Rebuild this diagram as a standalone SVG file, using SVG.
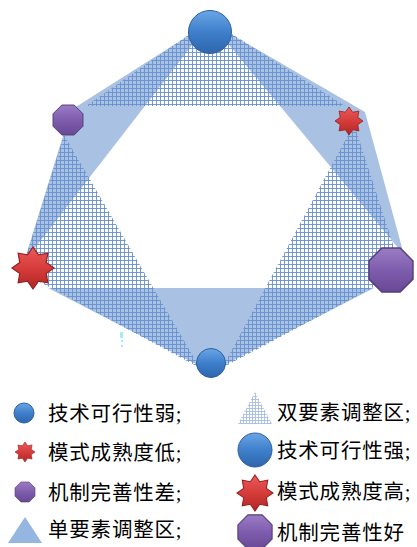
<svg xmlns="http://www.w3.org/2000/svg" width="417" height="547" viewBox="0 0 417 547">
<defs>
<pattern id="grid" patternUnits="userSpaceOnUse" width="4" height="4">
<path d="M0 0.5H4M0.5 0V4" stroke="#6790CF" stroke-width="0.9" fill="none"/>
</pattern>
<pattern id="gridL" patternUnits="userSpaceOnUse" width="3" height="3">
<path d="M0 0.5H3M0.5 0V3" stroke="#9DB8E0" stroke-width="0.8" fill="none"/>
</pattern>
<linearGradient id="gBlue" x1="0" y1="0" x2="0" y2="1">
<stop offset="0" stop-color="#6AA6E6"/><stop offset="0.5" stop-color="#3F7FCB"/><stop offset="1" stop-color="#2E66AE"/>
</linearGradient>
<linearGradient id="gRed" x1="0" y1="0" x2="0" y2="1">
<stop offset="0" stop-color="#EC5A58"/><stop offset="0.55" stop-color="#D23A38"/><stop offset="1" stop-color="#B02626"/>
</linearGradient>
<linearGradient id="gPurple" x1="0" y1="0" x2="0" y2="1">
<stop offset="0" stop-color="#9A7CC4"/><stop offset="0.5" stop-color="#7F5DAE"/><stop offset="1" stop-color="#694894"/>
</linearGradient>
<path id="star" d="M0,-10 L2.6,-6.28 L7.07,-7.07 L6.28,-2.6 L10,0 L6.28,2.6 L7.07,7.07 L2.6,6.28 L0,10 L-2.6,6.28 L-7.07,7.07 L-6.28,2.6 L-10,0 L-6.28,-2.6 L-7.07,-7.07 L-2.6,-6.28 Z"/>
<path id="oct" d="M9.24,-3.83 L3.83,-9.24 L-3.83,-9.24 L-9.24,-3.83 L-9.24,3.83 L-3.83,9.24 L3.83,9.24 L9.24,3.83 Z"/>
</defs>
<style>
.solid{fill:#A9C1E3}
.hatch{fill:url(#grid)}
.blue{fill:url(#gBlue);stroke:#2F5F9C;stroke-width:1}
.red{fill:url(#gRed);stroke:#992222;stroke-width:0.6}
.purple{fill:url(#gPurple);stroke:#553C7A;stroke-width:0.6}
.lbl{font-family:"Liberation Serif","Noto Sans CJK SC",serif;font-size:20.5px;fill:#000;letter-spacing:0.8px}
</style>
<rect width="417" height="547" fill="#FFFFFF"/>
<g id="zones">
<polygon class="solid" points="210,22 71,110 24,262"/>
<polygon class="solid" points="210,22 365,112 404,255"/>
<polygon class="solid" points="48,288 211,372 374,288"/>
<polygon class="hatch" points="210,20 86,106 345,106"/>
<polygon class="hatch" points="64,135 21,272 200,368"/>
<polygon class="hatch" points="354,124 402,272 222,368"/>
</g>
<g id="mark" fill="#9CEFF6">
<rect x="120" y="332" width="3" height="6"/>
<rect x="121" y="340" width="2" height="2"/>
<rect x="121" y="345" width="2" height="2"/>
</g>
<g id="node-top"><circle class="blue" cx="210" cy="32" r="21.5"/></g>
<g id="node-upper-right"><use href="#star" class="red" transform="translate(349,121) scale(1.4)"/></g>
<g id="node-right"><use href="#oct" class="purple" transform="translate(391,270) scale(2.38)"/></g>
<g id="node-bottom"><circle class="blue" cx="211" cy="363" r="14.5"/></g>
<g id="node-left"><use href="#star" class="red" transform="translate(33,268) scale(2.1)"/></g>
<g id="node-upper-left"><use href="#oct" class="purple" transform="translate(68,120) scale(1.62)"/></g>
<g id="legend">
<g id="leg1"><circle class="blue" cx="24" cy="413" r="10"/><text class="lbl" x="48" y="421">技术可行性弱;</text></g>
<g id="leg2"><use href="#star" class="red" transform="translate(25,452) scale(1.0)"/><text class="lbl" x="48" y="460">模式成熟度低;</text></g>
<g id="leg3"><use href="#oct" class="purple" transform="translate(25,492) scale(1.08)"/><text class="lbl" x="48" y="500">机制完善性差;</text></g>
<g id="leg4"><polygon points="25,517 8,543 42,543" fill="#96B6E2"/><text class="lbl" x="48" y="537">单要素调整区;</text></g>
<g id="leg5"><polygon points="255,392 238,424 272,424" fill="url(#gridL)"/><text class="lbl" x="277" y="420">双要素调整区;</text></g>
<g id="leg6"><circle class="blue" cx="255" cy="450" r="17"/><text class="lbl" x="277" y="458">技术可行性强;</text></g>
<g id="leg7"><use href="#star" class="red" transform="translate(255,493) scale(1.8)"/><text class="lbl" x="277" y="499">模式成熟度高;</text></g>
<g id="leg8"><use href="#oct" class="purple" transform="translate(255,532) scale(1.85)"/><text class="lbl" x="277" y="540">机制完善性好</text></g>
</g>
</svg>
